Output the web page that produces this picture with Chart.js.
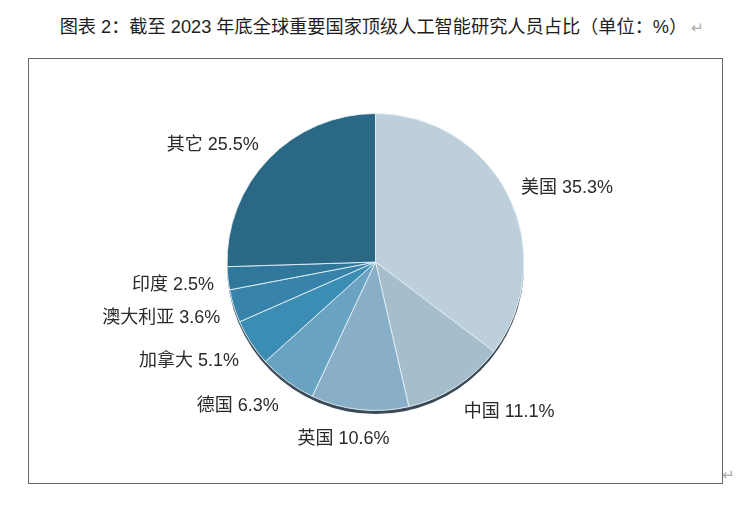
<!DOCTYPE html>
<html>
<head>
<meta charset="utf-8">
<script src="https://cdn.jsdelivr.net/npm/chart.js@4"></script>
<style>
  body { margin: 0; background: #fff; width: 750px; height: 521px; position: relative; overflow: hidden; }
  #title {
    position: absolute; left: 7px; top: 12px; width: 750px; text-align: center;
    font-family: "Liberation Sans", "Noto Sans CJK SC", sans-serif; font-size: 18.2px; color: #1e1e1e;
  }
  .ret { color: #aaa; font-size: 15px; }
  #frame {
    position: absolute; left: 28px; top: 58px; width: 693px; height: 424px;
    border: 1px solid #666;
  }
  #endmark { position: absolute; left: 722px; top: 466px; font-family: "DejaVu Sans", sans-serif; }
</style>
</head>
<body>
<div id="title">图表 2：截至 2023 年底全球重要国家顶级人工智能研究人员占比（单位：%）<span class="ret"> ↵</span></div>
<div id="frame"><canvas id="pieChart" width="693" height="424"></canvas></div>
<div id="endmark" class="ret">↵</div>
<script>
// shares of top AI researchers, end of 2023 (%)
const categories = ['美国', '中国', '英国', '德国', '加拿大', '澳大利亚', '印度', '其它'];
const shares = [35.3, 11.1, 10.6, 6.3, 5.1, 3.6, 2.5, 25.5];
const sliceColors = ['#bccfdb', '#a6bdcc', '#88afc7', '#6aa2c1', '#3b8db4', '#3783a9', '#2f789c', '#2b6886'];

// dark rim under the pie, like the tilted 3D look of the original
const rimShadow = {
    id: 'rimShadow',
    beforeDatasetsDraw(chart) {
        const arc = chart.getDatasetMeta(0).data[0];
        if (!arc) return;
        const { x, y, outerRadius } = arc.getProps(['x', 'y', 'outerRadius'], true);
        const ctx = chart.ctx;
        ctx.save();
        ctx.fillStyle = '#3a4955';
        ctx.beginPath();
        ctx.arc(x, y + 3.5, outerRadius, 0, Math.PI);
        ctx.fill();
        ctx.restore();
    }
};

// category + value labels outside each slice
const outerLabels = {
    id: 'outerLabels',
    afterDatasetsDraw(chart) {
        const ctx = chart.ctx;
        const meta = chart.getDatasetMeta(0);
        ctx.save();
        ctx.font = '18px "Liberation Sans", "Noto Sans CJK SC", sans-serif';
        ctx.fillStyle = '#2a2a2a';
        ctx.textBaseline = 'middle';
        ctx.textAlign = 'left';
        meta.data.forEach((arc, i) => {
            const { x, y, startAngle, endAngle, outerRadius } =
                arc.getProps(['x', 'y', 'startAngle', 'endAngle', 'outerRadius'], true);
            const mid = (startAngle + endAngle) / 2;
            const c = Math.cos(mid), s = Math.sin(mid);
            const r = outerRadius + 14;
            const text = categories[i] + ' ' + shares[i].toFixed(1) + '%';
            const w = ctx.measureText(text).width;
            // slide the text box around the anchor so it leans away from the pie
            const k = Math.max(-1, Math.min(1, 3 * c));
            const lx = x + c * r - w * (0.5 - 0.5 * k);
            const ly = y + s * (r + 12) + 4;
            ctx.fillText(text, lx, ly);
        });
        ctx.restore();
    }
};

new Chart(document.getElementById('pieChart').getContext('2d'), {
    type: 'pie',
    data: {
        labels: categories,
        datasets: [{
            data: shares,
            backgroundColor: sliceColors,
            borderColor: 'rgba(230, 242, 248, 0.9)',
            borderWidth: 1
        }]
    },
    options: {
        responsive: false,
        animation: false,
        layout: { padding: { top: 54, bottom: 72, left: 20, right: 20 } },
        plugins: {
            legend: { display: false },
            tooltip: { enabled: false }
        }
    },
    plugins: [rimShadow, outerLabels]
});
</script>
</body>
</html>
